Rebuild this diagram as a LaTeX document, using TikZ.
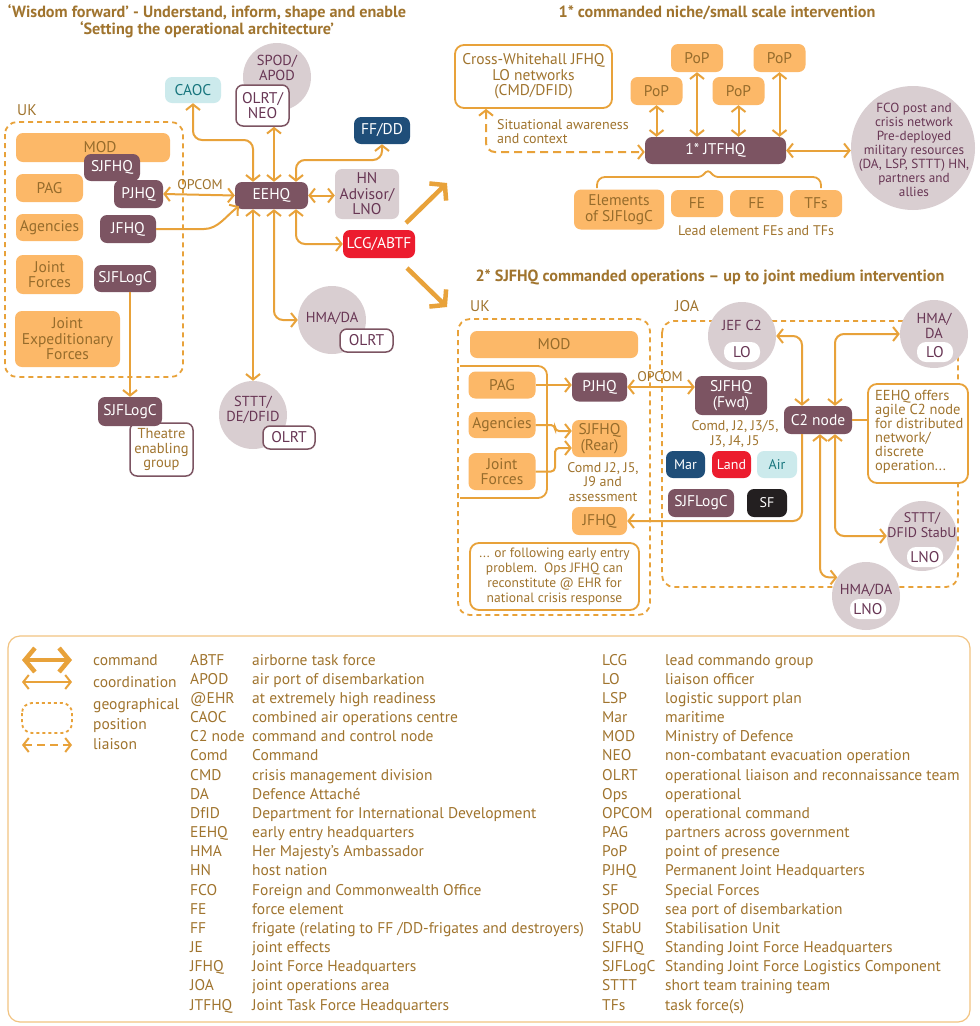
\documentclass[tikz,border=0pt]{standalone}
\usepackage{fontspec}
\setmainfont{PT Sans}
\usetikzlibrary{arrows.meta}
\definecolor{gold}{RGB}{160,116,46}
\definecolor{otext}{RGB}{150,108,44}
\definecolor{lor}{RGB}{232,162,58}
\definecolor{ofill}{RGB}{252,184,104}
\definecolor{purp}{RGB}{124,84,98}
\definecolor{ptext}{RGB}{104,54,84}
\definecolor{greyc}{RGB}{217,206,209}
\definecolor{caofill}{RGB}{204,234,236}
\definecolor{caotext}{RGB}{24,118,126}
\definecolor{navy}{RGB}{31,78,121}
\definecolor{redb}{RGB}{236,28,46}
\definecolor{blk}{RGB}{35,31,32}
\definecolor{legb}{RGB}{242,196,130}
\tikzset{
 bx/.style={rounded corners=7pt, minimum height=27pt, inner sep=1pt, align=center, font=\fontsize{15.5}{15.5}\selectfont},
 ob/.style={bx, fill=ofill, text=otext},
 pb/.style={bx, fill=purp, text=white},
 wb/.style={bx, draw=purp, line width=1.5pt, fill=white, text=ptext},
 obord/.style={bx, draw=lor, line width=1.8pt, fill=white, text=gold, rounded corners=9pt},
 gc/.style={circle, fill=greyc, minimum size=68pt, inner sep=0pt},
 lob/.style={bx, fill=white, text=ptext, minimum height=20pt, minimum width=36pt, rounded corners=9pt},
 ptx/.style={text=ptext, align=center, inner sep=0pt, font=\fontsize{14.5}{15}\selectfont},
 gtx/.style={text=gold, align=center, inner sep=0pt, font=\fontsize{14}{14.5}\selectfont},
 ttl/.style={text=gold, align=center, inner sep=0pt, font=\bfseries\fontsize{16.2}{17}\selectfont},
 lgt/.style={text=gold, inner sep=0pt, font=\fontsize{15.5}{15}\selectfont},
 co/.style={draw=lor, line width=2pt, rounded corners=9pt, >={Straight Barb[length=5.5pt,width=14pt]}, <->},
 co1/.style={co, ->},
 cmd/.style={draw=lor, line width=4.5pt, >={Straight Barb[length=10pt,width=24pt]}, ->},
 geo/.style={draw=lor, line width=1.8pt, dash pattern=on 5pt off 4pt, rounded corners=12pt},
 lia/.style={co, dash pattern=on 8pt off 5pt},
}
\begin{document}
\begin{tikzpicture}[x=1pt,y=-1pt]
\useasboundingbox (0,0) rectangle (980,1026);
\fill[white] (0,0) rectangle (980,1026);

% titles
\node[ttl] (t1) at (207,21.5) {‘Wisdom forward’ - Understand, inform, shape and enable\\‘Setting the operational architecture’};
\node[ttl] (t2) at (717,13) {1* commanded niche/small scale intervention};
\node[ttl] (t3) at (710,277) {2* SJFHQ commanded operations – up to joint medium intervention};

% ---------- left section ----------
\draw[geo] (5,122) rectangle (183,377);
\node[gtx, anchor=west, font=\fontsize{15.5}{15}\selectfont] (uk1) at (17,110) {UK};
\node[ob, minimum width=154pt, minimum height=29pt] (mod1) at (93,147.5) {\hspace*{14pt}MOD};
\node[pb, minimum width=56pt] (sjfhq1) at (112,167.5) {SJFHQ};
\node[ob, minimum width=67pt, minimum height=28pt] (pag1) at (49.5,188) {PAG};
\node[pb, minimum width=49pt, minimum height=28pt] (pjhq1) at (138.5,194) {PJHQ};
\node[ob, minimum width=67pt] (agen1) at (49.5,227.5) {Agencies};
\node[pb, minimum width=56pt, minimum height=28pt] (jfhq1) at (128,229) {JFHQ};
\node[ob, minimum width=67pt, minimum height=39pt] (jf1) at (49.5,274.5) {Joint\\Forces};
\node[pb, minimum width=62pt] (sjflog1) at (125,278.5) {SJFLogC};
\node[ob, minimum width=105pt, minimum height=56pt] (jef1) at (67.5,339) {Joint\\Expeditionary\\Forces};
\node[wb, minimum width=63pt, minimum height=53pt, text=gold, font=\fontsize{14.5}{14.5}\selectfont] (teg) at (161.5,449.5) {Theatre\\enabling\\group};
\node[pb, minimum width=64pt, minimum height=29pt] (sjflog2) at (130,411.5) {SJFLogC};
\draw[co1] (sjflog2.north |- sjflog1.south) -- (sjflog2.north);

\node[bx, fill=caofill, text=caotext, minimum width=56pt, minimum height=26pt] (caoc) at (193,90) {CAOC};
\node[gc] (spod) at (277,77) {};
\node[ptx] (spodt) at (277,67.5) {SPOD/\\APOD};
\node[wb, minimum width=53pt, minimum height=41pt] (olrtneo) at (262.5,105.5) {OLRT/\\NEO};
\node[bx, fill=navy, text=white, minimum width=56pt] (ffdd) at (382,130.5) {FF/DD};
\node[pb, minimum width=73pt] (eehq) at (271.5,195.5) {EEHQ};
\node[bx, fill=greyc, text=ptext, minimum width=64pt, minimum height=50pt] (hnadv) at (367,194) {HN\\Advisor/\\LNO};
\node[bx, fill=redb, text=white, minimum width=72pt, minimum height=28pt] (lcg) at (379,244) {LCG/ABTF};
\node[gc] (hma1) at (332,320) {};
\node[ptx] (hma1t) at (332,318) {HMA/DA};
\node[wb, minimum width=53pt, minimum height=23pt] (olrt1) at (366.5,340.5) {OLRT};
\node[gc] (sttt1) at (253,415) {};
\node[ptx] (sttt1t) at (253,410) {STTT/\\DE/DFID};
\node[wb, minimum width=52pt, minimum height=23pt] (olrt2) at (289,437.5) {OLRT};

\draw[co] (caoc.south) -- (193,140) -- (253,140) -- ([xshift=-18.5pt]eehq.north);
\draw[co] ([xshift=11.5pt]olrtneo.south) -- ([xshift=2.5pt]eehq.north);
\draw[co] (ffdd.south) -- (382,160) -- (296,160) -- ([xshift=24.5pt]eehq.north);
\draw[co] (eehq.east) -- (hnadv.west |- eehq.east);
\draw[co] ([xshift=24.5pt]eehq.south) |- (lcg.west);
\draw[co] ([xshift=2.5pt]eehq.south) |- (hma1.west);
\draw[co] ([xshift=-18.5pt]eehq.south) -- (sttt1.north);
\draw[co] (pjhq1.east) -- (eehq.west);
\node[gtx, font=\fontsize{14}{14}\selectfont] (opc1) at (200,185) {OPCOM};
\draw[co1] (jfhq1.east) -- (195,229) .. controls (218,229) and (226,216) .. ([xshift=4pt,yshift=3pt]eehq.south west);

\coordinate (ba1) at (406,223); \coordinate (ba1e) at (447,183);
\draw[cmd] (ba1) -- (ba1e);
\coordinate (ba2) at (407,268); \coordinate (ba2e) at (447,307);
\draw[cmd] (ba2) -- (ba2e);

% ---------- top right ----------
\node[obord, minimum width=157pt, minimum height=63pt] (cw) at (533.5,76.5) {Cross-Whitehall JFHQ\\LO networks\\(CMD/DFID)};
\node[pb, minimum width=141pt] (jtfhq) at (715.5,150.5) {1* JTFHQ};
\node[ob, minimum width=52pt, minimum height=28pt] (popA) at (656.5,91) {PoP};
\node[ob, minimum width=52pt, minimum height=28pt] (popB) at (697,58) {PoP};
\node[ob, minimum width=52pt, minimum height=28pt] (popC) at (738.5,91) {PoP};
\node[ob, minimum width=52pt, minimum height=28pt] (popD) at (779.5,58) {PoP};
\draw[co] (popA.south) -- (popA.south |- jtfhq.north);
\draw[co] (popB.south) -- (popB.south |- jtfhq.north);
\draw[co] (popC.south) -- (popC.south |- jtfhq.north);
\draw[co] (popD.south) -- (popD.south |- jtfhq.north);
\node[gc, minimum size=124pt] (fco) at (913,148) {};
\node[ptx, font=\fontsize{13.2}{14}\selectfont] (fcot) at (914,150) {FCO post and\\crisis network\\Pre-deployed\\military resources\\(DA, LSP, STTT) HN,\\partners and\\allies};
\draw[co] (jtfhq.east) -- (jtfhq.east -| fco.west);
\draw[lia] ([xshift=-47.5pt]cw.south) -- (486,152) -- ([yshift=-1.5pt]jtfhq.west);
\node[gtx, align=left, anchor=north west] (sit) at (497,119) {Situational awareness\\and context};
\draw[draw=lor, line width=1.8pt] [rounded corners=8pt] (597,188) -- (597,177) -- (650,177) [rounded corners=3pt] -- (701,177) -- (708,170) -- (715,177) [rounded corners=8pt] -- (760,177) -- (821,177) -- (821,188);
\node[ob, minimum width=90pt, minimum height=40pt] (elem) at (619,209.5) {Elements\\of SJFlogC};
\node[ob, minimum width=52pt] (fe1) at (697,203.5) {FE};
\node[ob, minimum width=53pt] (fe2) at (756.5,203.5) {FE};
\node[ob, minimum width=52pt] (tfs) at (816,203.5) {TFs};
\node[gtx] (lead) at (756,231) {Lead element FEs and TFs};

% ---------- section 2 ----------
\node[gtx, anchor=west, font=\fontsize{15.5}{15}\selectfont] (uk2) at (470,306) {UK};
\node[gtx, anchor=west, font=\fontsize{15.5}{15}\selectfont] (joa) at (675,306) {JOA};
\draw[geo] (458,319) rectangle (650,615);
\draw[geo] (662,321) rectangle (958,587);
\node[ob, minimum width=168pt] (mod2) at (554,344.5) {MOD};
\draw[draw=lor, line width=1.8pt, rounded corners=9pt] (460,366) -- (547,366) -- (547,498) -- (460,498);
\node[ob, minimum width=67pt] (pag2) at (502,385) {PAG};
\node[ob, minimum width=67pt, minimum height=26pt] (agen2) at (502,425) {Agencies};
\node[ob, minimum width=67pt, minimum height=37pt] (jf2) at (502,471.5) {Joint\\Forces};
\node[pb, minimum width=55pt, minimum height=29pt] (pjhq2) at (599.5,387) {PJHQ};
\node[ob, minimum width=55pt, minimum height=37pt] (sjfhqr) at (599.5,438.5) {SJFHQ\\(Rear)};
\node[gtx] (comdr) at (603,482) {Comd J2, J5,\\J9 and\\assessment};
\node[ob, minimum width=55pt, minimum height=28pt] (jfhq2) at (599.5,521) {JFHQ};
\node[obord, minimum width=169pt, minimum height=67pt, font=\fontsize{13.5}{15}\selectfont] (note) at (554.5,576.5) {... or following early entry\\problem.\ \ Ops JFHQ can\\reconstitute @ EHR for\\national crisis response};
\draw[co1] (pag2.east) -- (pag2.east -| pjhq2.west);
\draw[co1, rounded corners=4pt] (agen2.east) -- (555,425) |- ([yshift=7.5pt]sjfhqr.west);
\draw[co1, rounded corners=4pt] (jf2.east) -- (555,471.5) |- ([yshift=-9.5pt]sjfhqr.west);

\node[pb, minimum width=72pt, minimum height=39pt] (sjfhqf) at (731,395.5) {SJFHQ\\(Fwd)};
\draw[co] (pjhq2.east) -- (pjhq2.east -| sjfhqf.west);
\node[gtx, font=\fontsize{14}{14}\selectfont] (opc2) at (660,377) {OPCOM};
\node[gtx] (comdf) at (735,434) {Comd, J2, J3/5,\\J3, J4, J5};
\node[bx, fill=navy, text=white, minimum width=39pt, font=\fontsize{14}{14}\selectfont] (mar) at (685.5,464.5) {Mar};
\node[bx, fill=redb, text=white, minimum width=39pt, font=\fontsize{14}{14}\selectfont] (land) at (731.5,464.5) {Land};
\node[bx, fill=caofill, text=caotext, minimum width=40pt, font=\fontsize{14}{14}\selectfont] (air) at (777,464.5) {Air};
\node[pb, minimum width=66pt, minimum height=28pt] (sjflogf) at (701,503) {SJFLogC};
\node[bx, fill=blk, text=white, minimum width=40pt, minimum height=28pt, font=\fontsize{14}{14}\selectfont] (sf) at (767,503) {SF};

\node[gc] (jefc2) at (742,336) {};
\node[ptx] (jeft) at (742,325) {JEF C2};
\node[lob] (lo1) at (742,352) {LO};
\node[gc] (hma2) at (934,334) {};
\node[ptx] (hma2t) at (934,325.5) {HMA/\\DA};
\node[lob] (lo2) at (935,352) {LO};
\node[gc, minimum size=70pt] (sttt2) at (922,536) {};
\node[ptx, font=\fontsize{14}{15}\selectfont] (sttt2t) at (922,525.5) {STTT/\\DFID StabU};
\node[lob] (lno1) at (925,557) {LNO};
\node[gc] (hma3) at (866,596) {};
\node[ptx] (hma3t) at (866,590) {HMA/DA};
\node[lob] (lno2) at (868,609) {LNO};

\node[pb, minimum width=68pt, minimum height=28pt] (c2) at (818,420) {C2 node};
\node[obord, minimum width=100pt, minimum height=99pt] (eeb) at (918,433.5) {};
\node[gtx, align=left, anchor=north west, font=\fontsize{14.5}{14}\selectfont] (eebt) at (875,390) {EEHQ offers\\agile C2 node\\for distributed\\network/\\discrete\\operation...};
\draw[draw=lor, line width=1.8pt] (c2.east) -- (c2.east -| eeb.west);

\draw[co] (jefc2.east) -| ([xshift=-16pt]c2.north);
\draw[co] ([xshift=17pt]c2.north) |- (hma2.west);
\draw[co] ([xshift=17pt]c2.south) |- (sttt2.west);
\draw[co] ([xshift=2pt]c2.south) |- (hma3.147);
\draw[co1] ([xshift=-16pt]c2.south) |- (jfhq2.east);

% ---------- legend ----------
\draw[draw=legb, line width=1.2pt, rounded corners=12pt] (8,636) rectangle (970,1022);
\coordinate (lc1) at (22,660); \coordinate (lc2) at (72,660);
\draw[cmd, <->] (lc1) -- (lc2);
\coordinate (lq1) at (22,682); \coordinate (lq2) at (72,682);
\draw[co] (lq1) -- (lq2);
\draw[geo, dash pattern=on 3pt off 3pt, rounded corners=10pt] (22,703) rectangle (72,733);
\coordinate (ll1) at (22,745); \coordinate (ll2) at (72,745);
\draw[lia] (ll1) -- (ll2);
\node[lgt, anchor=base west] (k1) at (93,665) {command};
\node[lgt, anchor=base west] (k2) at (93,687) {coordination};
\node[lgt, anchor=base west] (k3) at (93,709) {geographical};
\node[lgt, anchor=base west] (k4) at (93,729) {position};
\node[lgt, anchor=base west] (k5) at (93,749) {liaison};

\foreach \a/\d [count=\i from 0] in {ABTF/{airborne task force},APOD/{air port of disembarkation},@EHR/{at extremely high readiness},CAOC/{combined air operations centre},C2 node/{command and control node},Comd/{Command},CMD/{crisis management division},DA/{Defence Attaché},DfID/{Department for International Development},EEHQ/{early entry headquarters},HMA/{Her Majesty’s Ambassador},HN/{host nation},FCO/{Foreign and Commonwealth Office},FE/{force element},FF/{frigate (relating to FF /DD-frigates and destroyers)},JE/{joint effects},JFHQ/{Joint Force Headquarters},JOA/{joint operations area},JTFHQ/{Joint Task Force Headquarters}}
{
 \node[lgt, anchor=base west] (la\i) at (190,{665+19.17*\i}) {\a};
 \node[lgt, anchor=base west] (ld\i) at (252,{665+19.17*\i}) {\d};
}
\foreach \a/\d [count=\i from 0] in {LCG/{lead commando group},LO/{liaison officer},LSP/{logistic support plan},Mar/{maritime},MOD/{Ministry of Defence},NEO/{non-combatant evacuation operation},OLRT/{operational liaison and reconnaissance team},Ops/{operational},OPCOM/{operational command},PAG/{partners across government},PoP/{point of presence},PJHQ/{Permanent Joint Headquarters},SF/{Special Forces},SPOD/{sea port of disembarkation},StabU/{Stabilisation Unit},SJFHQ/{Standing Joint Force Headquarters},SJFLogC/{Standing Joint Force Logistics Component},STTT/{short team training team},TFs/{task force(s)}}
{
 \node[lgt, anchor=base west] (lb\i) at (602,{665+19.17*\i}) {\a};
 \node[lgt, anchor=base west] (le\i) at (665,{665+19.17*\i}) {\d};
}
\end{tikzpicture}
\end{document}
